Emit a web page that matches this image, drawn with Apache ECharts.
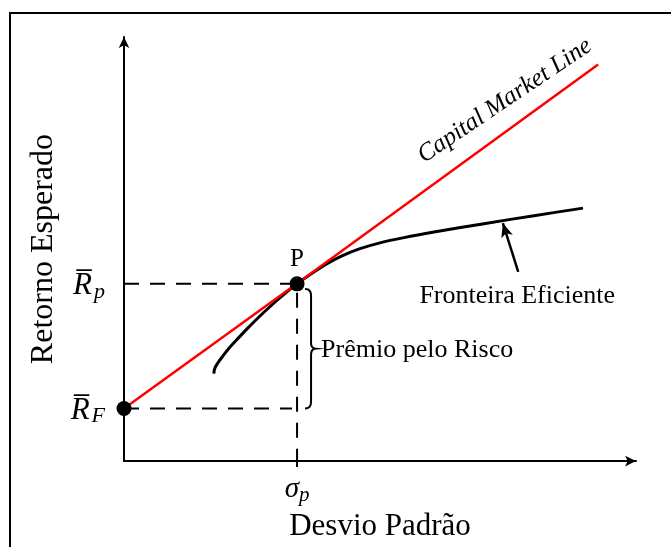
<!DOCTYPE html>
<html>
<head>
<meta charset="utf-8">
<script src="https://cdn.jsdelivr.net/npm/echarts@6/dist/echarts.min.js"></script>
<style>
  html, body { margin: 0; padding: 0; background: #fff; }
  #main { width: 671px; height: 547px; }
</style>
</head>
<body>
<div id="main"></div>
<script>
// dados do diagrama (unidades arbitrarias 0-10)
var riskFree = [0, 1.24];
var portfolioP = [3.38, 4.18];
var cmlPoints = [[0, 1.24], [3.38, 4.19], [9.26, 9.35]];
var frontierPoints = [
  [1.755, 2.06], [1.765, 2.15], [1.79, 2.23], [1.84, 2.33], [1.92, 2.46],
  [2.05, 2.66], [2.227, 2.894], [2.422, 3.142], [2.656, 3.422], [2.930, 3.728],
  [3.164, 3.973], [3.379, 4.178], [3.672, 4.428], [3.965, 4.654], [4.258, 4.840],
  [4.609, 5.009], [5.000, 5.146], [5.469, 5.269], [6.055, 5.400], [7.031, 5.599],
  [8.008, 5.787], [8.965, 5.965]
];
var yTickValues = [1.24, 4.18];
var yTickSubs = ['F', 'p'];
var xTickValues = [3.38];
var xTickSubs = ['p'];
var arrowFrom = [7.70, 4.46];
var arrowTo = [7.40, 5.61];
var braceTop = 4.06;
var braceBottom = 1.24;
var notes = [
  { text: 'Fronteira Eficiente', pos: [7.68, 3.88] },
  { text: 'Prêmio pelo Risco', pos: [3.85, 2.61] }
];
var cmlLabelPos = [7.44, 8.50];

var serif = 'Liberation Serif';

var chart = echarts.init(document.getElementById('main'));

var option = {
  animation: false,
  grid: { left: 124, right: 35, top: 37, bottom: 84 },
  xAxis: {
    type: 'value',
    min: 0,
    max: 10,
    name: 'Desvio Padrão',
    nameLocation: 'middle',
    nameGap: 46,
    nameTextStyle: { fontFamily: serif, fontSize: 31, color: '#000' },
    axisLine: {
      show: true,
      symbol: ['none', 'arrow'],
      symbolSize: [8, 11],
      lineStyle: { color: '#000', width: 2 }
    },
    axisTick: {
      show: true,
      customValues: xTickValues,
      length: 6,
      lineStyle: { color: '#000', width: 2 }
    },
    axisLabel: {
      show: true,
      customValues: xTickValues,
      margin: 12,
      formatter: function (v) {
        return '{r|σ}{s|' + xTickSubs[xTickValues.indexOf(v)] + '}';
      },
      rich: {
        r: { fontFamily: serif, fontStyle: 'italic', fontSize: 29, color: '#000' },
        s: { fontFamily: serif, fontStyle: 'italic', fontSize: 21, color: '#000', padding: [12, 0, 0, 0] }
      }
    },
    splitLine: { show: false }
  },
  yAxis: {
    type: 'value',
    min: 0,
    max: 10,
    name: 'Retorno Esperado',
    nameLocation: 'middle',
    nameGap: 64,
    nameTextStyle: { fontFamily: serif, fontSize: 32, color: '#000' },
    axisLine: {
      show: true,
      symbol: ['none', 'arrow'],
      symbolSize: [8, 11],
      lineStyle: { color: '#000', width: 2 }
    },
    axisTick: { show: false },
    axisLabel: {
      show: true,
      customValues: yTickValues,
      margin: 19,
      formatter: function (v) {
        return '{r|R\u0305}{s|' + yTickSubs[yTickValues.indexOf(v)] + '}';
      },
      rich: {
        r: { fontFamily: serif, fontStyle: 'italic', fontSize: 31, color: '#000', padding: [4, 2, 0, 0] },
        s: { fontFamily: serif, fontStyle: 'italic', fontSize: 22, color: '#000', padding: [16, 0, 0, 0] }
      }
    },
    splitLine: { show: false }
  },
  series: [
    {
      name: 'guia Rp',
      type: 'line',
      data: [[0, portfolioP[1]], portfolioP, [portfolioP[0], 0]],
      symbol: 'none',
      lineStyle: { color: '#000', width: 2, type: [15, 11] },
      z: 1
    },
    {
      name: 'guia Rf',
      type: 'line',
      data: [riskFree, [portfolioP[0] - 0.1, riskFree[1]]],
      symbol: 'none',
      lineStyle: { color: '#000', width: 2, type: [15, 11] },
      z: 1
    },
    {
      name: 'Fronteira Eficiente',
      type: 'line',
      data: frontierPoints,
      smooth: 0.3,
      symbol: 'none',
      lineStyle: { color: '#000', width: 3 },
      markLine: {
        silent: true,
        symbol: ['none', 'arrow'],
        symbolSize: [9, 14],
        lineStyle: { color: '#000', width: 2.5, type: 'solid' },
        label: { show: false },
        data: [[{ coord: arrowFrom }, { coord: arrowTo }]]
      },
      z: 2
    },
    {
      name: 'Capital Market Line',
      type: 'line',
      data: cmlPoints,
      symbol: 'none',
      lineStyle: { color: '#ff0000', width: 2.5 },
      z: 3
    },
    {
      name: 'pontos',
      type: 'scatter',
      data: [
        { value: riskFree },
        {
          value: portfolioP,
          label: {
            show: true,
            position: 'top',
            distance: 4,
            formatter: 'P',
            fontFamily: serif,
            fontSize: 25,
            color: '#000'
          }
        }
      ],
      symbolSize: 15,
      itemStyle: { color: '#000', opacity: 1 },
      z: 5
    },
    {
      name: 'textos',
      type: 'scatter',
      symbolSize: 0,
      itemStyle: { opacity: 1 },
      data: notes.map(function (n, i) {
        return {
          value: n.pos,
          label: {
            show: true,
            position: 'inside',
            align: i === 0 ? 'center' : 'left',
            formatter: n.text,
            fontFamily: serif,
            fontSize: 26,
            color: '#000',
            textBorderWidth: 0
          }
        };
      }).concat([{
        value: cmlLabelPos,
        label: {
          show: true,
          position: 'inside',
          rotate: 34,
          formatter: 'Capital Market Line',
          fontFamily: serif,
          fontStyle: 'italic',
          fontSize: 25,
          color: '#000',
          textBorderWidth: 0
        }
      }]),
      z: 6
    }
  ]
};

chart.setOption(option);

// chave do premio pelo risco (amostrada em pontos) + moldura
function quad(p0, c, p1, n) {
  var out = [];
  for (var i = 1; i <= n; i++) {
    var t = i / n, u = 1 - t;
    out.push([u * u * p0[0] + 2 * u * t * c[0] + t * t * p1[0],
              u * u * p0[1] + 2 * u * t * c[1] + t * t * p1[1]]);
  }
  return out;
}
var pT = chart.convertToPixel({ gridIndex: 0 }, [portfolioP[0], braceTop]);
var pB = chart.convertToPixel({ gridIndex: 0 }, [portfolioP[0], braceBottom]);
var x0 = pT[0] + 8, x1 = x0 + 6, xt = x1 + 5;
var yT = pT[1], yB = pB[1], yM = (yT + yB) / 2;
var brace = [[x0, yT]];
brace = brace.concat(quad([x0, yT], [x1, yT], [x1, yT + 7], 6));
brace.push([x1, yM - 6]);
brace = brace.concat(quad([x1, yM - 6], [x1, yM], [xt, yM], 6));
brace = brace.concat(quad([xt, yM], [x1, yM], [x1, yM + 6], 6));
brace.push([x1, yB - 7]);
brace = brace.concat(quad([x1, yB - 7], [x1, yB], [x0, yB], 6));

chart.setOption({
  graphic: [
    {
      type: 'rect',
      shape: { x: 10, y: 13, width: 700, height: 600 },
      style: { fill: null, stroke: '#000', lineWidth: 2 },
      silent: true
    },
    {
      type: 'polyline',
      shape: { points: brace },
      style: { fill: null, stroke: '#000', lineWidth: 2 },
      silent: true
    }
  ]
});
</script>
</body>
</html>
